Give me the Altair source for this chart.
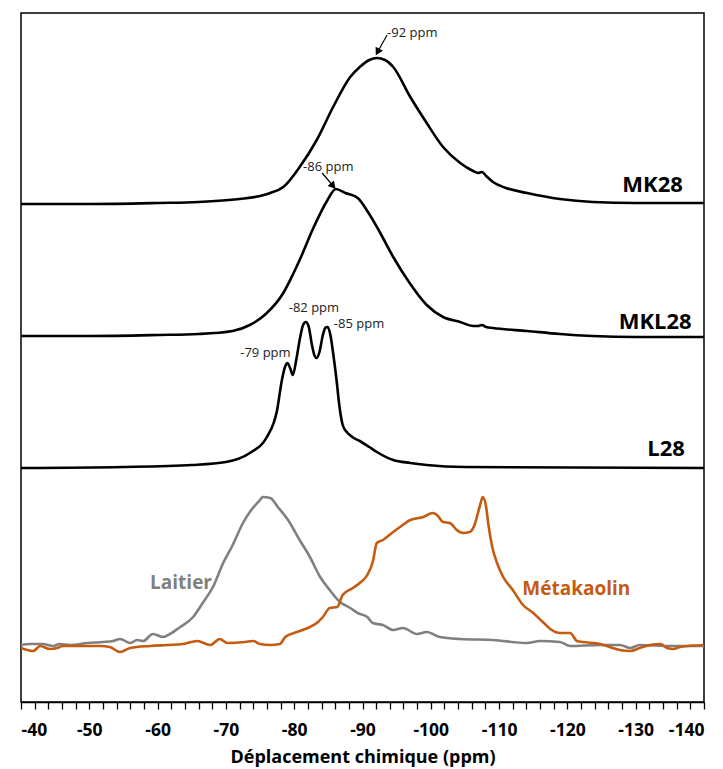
import altair as alt
import pandas as pd

# ---- spectra (ppm, intensity in arbitrary units, stacked offsets included) ----
mk28_ppm = [-40, -50, -60, -66, -72, -75, -76.5, -78.4, -80.8, -83.3, -85.7, -88.2, -89.6, -91, -92.1,
            -93.3, -94.5, -97.0, -99.4, -101.8, -104.3, -106.2, -106.9, -107.5, -108.1, -109.1, -111,
            -114.1, -118.9, -123.7, -130, -140]
mk28_int = [498, 498, 499, 500, 503, 506, 509, 515, 535, 562, 595, 625, 635, 642, 644,
            642, 635, 605, 579, 555, 539, 531, 529, 530, 526, 520, 514,
            509, 503, 500, 499, 499]

mkl28_ppm = [-40, -50, -60, -66, -71, -73.5, -76, -78.4, -79.7, -80.8, -82.8, -84.8, -86.1, -87.5, -89.3,
             -90.8, -92.6, -94.5, -96.8, -99.4, -101.8, -104.3, -106.2, -106.9, -107.5, -108.1, -109.1,
             -114.1, -118.9, -123.7, -130, -140]
mkl28_int = [366, 366, 367, 368, 371, 377, 389, 409, 426, 442, 474, 501, 513, 509, 504,
             490, 469, 445, 420, 397, 385, 380, 376, 376, 377, 375, 374,
             371, 368, 366, 365, 365]

l28_ppm = [-40, -55, -65, -70, -73.5, -76, -77.5, -78.2, -78.7, -79.0, -79.4, -79.8, -80.3, -80.8, -81.3,
           -81.7, -82.1, -82.6, -83.0, -83.3, -83.7, -84.2, -84.6, -84.9, -85.3, -85.7, -86.2, -86.6,
           -87.1, -87.7, -88.5, -89.6, -91, -92.1, -94.5, -97, -99.4, -105, -140]
l28_int = [234, 235, 237, 240, 249, 265, 292, 322, 336, 339, 334, 327, 342, 362, 377,
           380, 376, 357, 346, 344, 350, 367, 374.5, 375, 367, 349, 322, 297,
           277, 270, 265, 261, 255, 250, 242, 239, 237, 235, 234]

laitier_ppm = [-40, -41.3, -43.2, -44.7, -45.7, -47.2, -49.7, -52.0, -53.5, -54.5, -56.0, -57.0, -57.9,
               -59.3, -60.8, -61.8, -63.3, -65.2, -66.6, -68.1, -69.6, -71.0, -72.5, -73.5, -75.0, -75.4,
               -76.5, -77.6, -79.1, -80.8, -82.3, -83.8, -85.2, -86.7, -88.2, -89.3, -90.7, -91.5, -93.0,
               -94.5, -95.9, -98.0, -99.4, -101.3, -104.3, -109.1, -114.1, -116.0, -118.9, -120.4,
               -124.8, -127.7, -129.2, -130.6, -135.0, -140]
laitier_int = [57, 58, 58, 56, 58, 57, 59, 60, 61, 63, 59, 62, 61,
               68, 65, 68, 75, 85, 99, 115, 139, 157, 179, 190, 202, 205,
               204, 195, 182, 162, 145, 125, 112, 100, 94, 89, 85, 79, 77,
               72, 74, 68, 70, 65, 63, 62, 59, 61, 60, 56,
               57, 57, 54, 57, 56, 56]

meta_ppm = [-40, -41.8, -42.8, -44.2, -45.3, -46.1, -48.6, -51.6, -53.0, -54.5, -56.0, -58.9, -61.4, -63.7,
            -65.8, -67.7, -69.1, -70.2, -72.8, -74.0, -75.0, -76.5, -77.9, -78.7, -80.4, -82.3, -83.3,
            -84.2, -85.2, -86.3, -87.1, -88.6, -89.6, -90.7, -91.5, -92.1, -93.0, -94.5, -95.9, -97.0,
            -98.9, -100.3, -100.9, -101.8, -102.8, -103.8, -104.7, -105.7, -106.5, -106.9, -107.3,
            -107.6, -108.1, -108.4, -109.0, -109.7, -110.6, -112.0, -113.5, -115.0, -116.4, -117.7,
            -118.9, -120.4, -121.4, -122.3, -124.8, -126.2, -127.7, -129.2, -130.6, -132.1, -133.6,
            -134.6, -135.5, -136.5, -140]
meta_int = [54, 51, 56, 53, 54, 56, 56, 56, 55, 50, 54, 56, 57, 58,
            61, 57, 63, 59, 60, 61, 58, 57, 58, 65, 70, 75, 79,
            85, 94, 95, 107, 114, 119, 127, 140, 159, 162, 170, 177, 182,
            185, 189, 187, 180, 179, 172, 169, 170, 179, 189, 199,
            205, 195, 179, 155, 139, 125, 112, 97, 89, 80, 72,
            69, 69, 61, 60, 58, 55, 52, 51, 54, 57, 58,
            54, 53, 55, 57]

series_names = ["MK28", "MKL28", "L28", "Laitier", "Métakaolin"]
series_colors = ["#000000", "#000000", "#000000", "#808080", "#C55A11"]

# ---- labels ----
big_labels = ["MK28", "MKL28", "L28"]
big_x = [-136.9, -138.2, -137.2]
big_y = [517, 380, 253]

side_labels = ["Laitier", "Métakaolin"]
side_x = [-58.9, -113.4]
side_y = [119, 113]
side_colors = ["#808080", "#C55A11"]

peak_labels = ["-92 ppm", "-86 ppm", "-82 ppm", "-85 ppm", "-79 ppm"]
peak_x = [-93.6, -81.3, -79.2, -85.8, -72.1]
peak_y = [669, 535, 394, 378, 349]

# arrows: tail -> head
arrow_x = [-93.6, -84.1]
arrow_y = [667, 529]
arrow_x2 = [-92.2, -85.7]
arrow_y2 = [650, 516]
arrow_angle = [209, 139]

x_ticks = list(range(-40, -141, -2))

rows = []
for name, xs, ys in [("MK28", mk28_ppm, mk28_int), ("MKL28", mkl28_ppm, mkl28_int),
                     ("L28", l28_ppm, l28_int), ("Laitier", laitier_ppm, laitier_int),
                     ("Métakaolin", meta_ppm, meta_int)]:
    for i, (a, b) in enumerate(zip(xs, ys)):
        rows.append({"series": name, "ppm": a, "val": b, "order": i})
df = pd.DataFrame(rows)

FONT = "Open Sans"

xscale = alt.Scale(domain=[-40, -140], nice=False, zero=False)
yscale = alt.Scale(domain=[0, 689], nice=False, zero=False)

lines = alt.Chart(df).mark_line(strokeWidth=2.6, interpolate="monotone").encode(
    x=alt.X("ppm:Q", scale=xscale, title="Déplacement chimique (ppm)",
            axis=alt.Axis(values=x_ticks, tickCount=200, grid=False, tickSize=7, tickColor="black",
                          tickWidth=1.3, domainColor="black", domainWidth=1.5,
                          labelExpr="datum.value % 10 == 0 ? toString(datum.value) : ''",
                          labelFont=FONT, labelFontSize=17.5, labelFontWeight="bold", labelColor="black",
                          labelPadding=12, labelOverlap=False,
                          titleFont=FONT, titleFontSize=18, titleFontWeight="bold", titleColor="black",
                          titlePadding=10)),
    y=alt.Y("val:Q", scale=yscale, axis=None),
    color=alt.Color("series:N", scale=alt.Scale(domain=series_names, range=series_colors), legend=None),
    detail="series:N",
    order="order:Q",
)

big_df = pd.DataFrame({"t": big_labels, "x": big_x, "y": big_y})
big = alt.Chart(big_df).mark_text(align="right", baseline="middle", font=FONT, fontSize=22,
                                  fontWeight="bold", color="black").encode(
    x=alt.X("x:Q", scale=xscale), y=alt.Y("y:Q", scale=yscale), text="t:N")

side_df = pd.DataFrame({"t": side_labels, "x": side_x, "y": side_y, "c": side_colors})
side = alt.Chart(side_df).mark_text(align="left", baseline="middle", font=FONT, fontSize=19,
                                    fontWeight="bold").encode(
    x=alt.X("x:Q", scale=xscale), y=alt.Y("y:Q", scale=yscale), text="t:N",
    color=alt.Color("c:N", scale=None))

peak_df = pd.DataFrame({"t": peak_labels, "x": peak_x, "y": peak_y})
peaks = alt.Chart(peak_df).mark_text(align="left", baseline="middle", font=FONT, fontSize=13,
                                     color="#222222").encode(
    x=alt.X("x:Q", scale=xscale), y=alt.Y("y:Q", scale=yscale), text="t:N")

arr_df = pd.DataFrame({"x": arrow_x, "y": arrow_y, "x2": arrow_x2, "y2": arrow_y2, "a": arrow_angle})
arr_lines = alt.Chart(arr_df).mark_rule(color="black", strokeWidth=1.2).encode(
    x=alt.X("x:Q", scale=xscale), y=alt.Y("y:Q", scale=yscale), x2="x2:Q", y2="y2:Q")
arr_heads = alt.Chart(arr_df).mark_point(shape="triangle-up", filled=True, size=70, color="black",
                                         opacity=1).encode(
    x=alt.X("x2:Q", scale=xscale), y=alt.Y("y2:Q", scale=yscale),
    angle=alt.Angle("a:Q", scale=None))

chart = alt.layer(lines, big, side, peaks, arr_lines, arr_heads).properties(
    width=683, height=689,
    autosize=alt.AutoSizeParams(type="none"),
    padding={"left": 13, "top": 5, "right": 11, "bottom": 66},
).configure_view(stroke="black", strokeWidth=1.5)

chart.save("out.html", embed_options={"renderer": "svg", "actions": False})
